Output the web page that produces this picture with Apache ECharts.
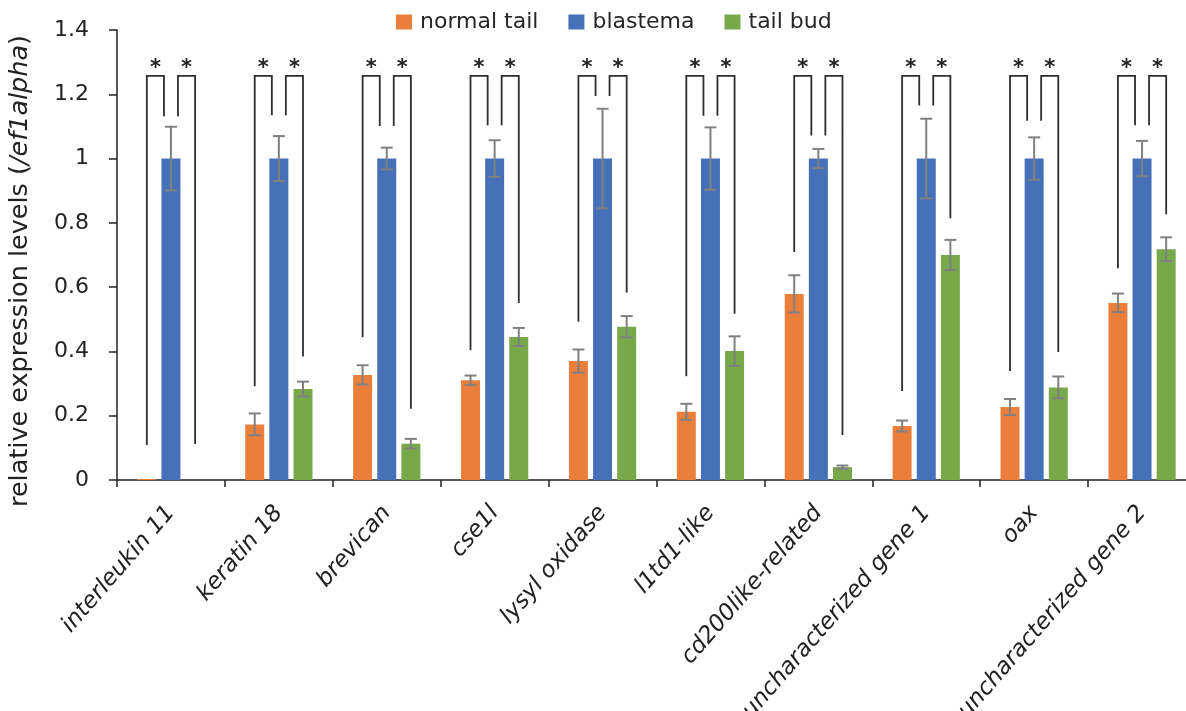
<!DOCTYPE html>
<html><head><meta charset="utf-8">
<script src="https://cdn.jsdelivr.net/npm/echarts@6/dist/echarts.min.js"></script>
<style>html,body{margin:0;padding:0;background:#fff}#c{width:1186px;height:711px}</style>
</head><body><div id="c"></div>
<script>
// ---- data ----
const categories = ['interleukin 11','keratin 18','brevican','cse1l','lysyl oxidase','l1td1-like','cd200like-related','uncharacterized gene 1','oax','uncharacterized gene 2'];
const seriesNames = ['normal tail','blastema','tail bud'];
const normalTail    = [0.003, 0.173, 0.327, 0.310, 0.370, 0.212, 0.579, 0.168, 0.227, 0.551];
const normalTailErr = [0,     0.034, 0.030, 0.015, 0.036, 0.025, 0.058, 0.017, 0.025, 0.029];
const blastema      = [1, 1, 1, 1, 1, 1, 1, 1, 1, 1];
const blastemaErr   = [0.099, 0.070, 0.034, 0.057, 0.155, 0.097, 0.030, 0.124, 0.066, 0.055];
const tailBud       = [0,     0.283, 0.113, 0.445, 0.477, 0.401, 0.040, 0.700, 0.288, 0.718];
const tailBudErr    = [0,     0.023, 0.015, 0.028, 0.033, 0.046, 0.005, 0.047, 0.034, 0.037];
// significance brackets (y values)
const bracketTop      = 1.257;
const bracketLeftLow  = [0.109, 0.292, 0.444, 0.404, 0.492, 0.323, 0.709, 0.277, 0.339, 0.659];
const bracketInnerLow = [1.132, 1.135, 1.101, 1.104, 1.195, 1.133, 1.072, 1.165, 1.118, 1.104];
const bracketRightLow = [0.112, 0.384, 0.222, 0.551, 0.583, 0.517, 0.140, 0.814, 0.398, 0.827];
const yMin = 0, yMax = 1.4, yInterval = 0.2;

// ---- style ----
const COLORS = ['#E97F3B', '#4671B8', '#77A94A'];
const FONT = 'DejaVu Sans';
const BAR_W = 19, BAR_GAP = 0.27, PITCH = BAR_W * (1 + BAR_GAP);
const CAP = 6, ERR_COLOR = '#808080', BR_COLOR = '#2e2e2e', INNER = 7;

const chart = echarts.init(document.getElementById('c'), null, {renderer: 'canvas'});

function errorSeries(si, vals, errs) {
  return {
    type: 'custom', z: 5, silent: true, clip: false,
    data: vals.map((v, i) => [i, v - errs[i], v + errs[i], errs[i]]),
    encode: {x: 0, y: [1, 2]},
    renderItem(params, api) {
      if (api.value(3) <= 0) return;
      const c = api.value(0);
      const x = api.coord([c, 0])[0] + (si - 1) * PITCH;
      const lo = api.coord([c, api.value(1)])[1];
      const hi = api.coord([c, api.value(2)])[1];
      const st = {stroke: ERR_COLOR, lineWidth: 2};
      return {type: 'group', children: [
        {type: 'line', shape: {x1: x, y1: lo, x2: x, y2: hi}, style: st},
        {type: 'line', shape: {x1: x - CAP, y1: lo, x2: x + CAP, y2: lo}, style: st},
        {type: 'line', shape: {x1: x - CAP, y1: hi, x2: x + CAP, y2: hi}, style: st}
      ]};
    }
  };
}

const bracketSeries = {
  type: 'custom', z: 6, silent: true, clip: false,
  data: categories.map((_, i) => [i, bracketLeftLow[i], bracketInnerLow[i], bracketRightLow[i], bracketTop]),
  encode: {x: 0, y: [1, 4]},
  renderItem(params, api) {
    const c = api.value(0);
    const xc = api.coord([c, 0])[0];
    const xL = xc - PITCH, xR = xc + PITCH, xi1 = xc - INNER, xi2 = xc + INNER;
    const yT = api.coord([c, api.value(4)])[1];
    const yL = api.coord([c, api.value(1)])[1];
    const yI = api.coord([c, api.value(2)])[1];
    const yR = api.coord([c, api.value(3)])[1];
    const st = {stroke: BR_COLOR, lineWidth: 1.8, fill: null};
    const ts = {text: '*', fontSize: 21, fontWeight: 'bold', fontFamily: FONT, fill: '#222', align: 'center', verticalAlign: 'middle'};
    return {type: 'group', children: [
      {type: 'polyline', shape: {points: [[xL, yL], [xL, yT], [xi1, yT], [xi1, yI]]}, style: st},
      {type: 'polyline', shape: {points: [[xi2, yI], [xi2, yT], [xR, yT], [xR, yR]]}, style: st},
      {type: 'text', x: (xL + xi1) / 2, y: yT - 7, style: ts},
      {type: 'text', x: (xi2 + xR) / 2, y: yT - 7, style: ts}
    ]};
  }
};

const barBase = {type: 'bar', barWidth: BAR_W, barGap: (BAR_GAP * 100) + '%'};

chart.setOption({
  animation: false,
  color: COLORS,
  textStyle: {fontFamily: FONT},
  legend: {
    data: seriesNames, left: 391, top: 6, icon: 'rect', itemWidth: 16, itemHeight: 15, itemGap: 30,
    textStyle: {fontSize: 22, fontFamily: FONT, color: '#262626', padding: [0, 0, 0, 3]}
  },
  grid: {left: 117, right: -10, top: 30, bottom: 231, containLabel: false, outerBoundsMode: 'none'},
  xAxis: {
    type: 'category', data: categories,
    axisLine: {lineStyle: {color: '#222', width: 1.5}},
    axisTick: {show: true, length: 7, lineStyle: {color: '#222', width: 1.5}},
    axisLabel: {rotate: 49, margin: 29, fontSize: 23, fontStyle: 'italic', fontFamily: FONT, color: '#222', interval: 0}
  },
  yAxis: {
    type: 'value', min: yMin, max: yMax, interval: yInterval,
    splitLine: {show: false},
    axisLine: {show: true, lineStyle: {color: '#222', width: 1.5}},
    axisTick: {show: true, length: 8, lineStyle: {color: '#222', width: 1.5}},
    axisLabel: {margin: 28, fontSize: 22, fontFamily: FONT, color: '#222'},
    name: '{n|relative expression levels (}{i|/ef1alpha}{n|)}',
    nameLocation: 'middle', nameRotate: 90, nameGap: 84,
    nameTextStyle: {
      padding: [0, 32, 0, 0],
      rich: {
        n: {fontSize: 25.5, fontFamily: FONT, color: '#222'},
        i: {fontSize: 25.5, fontFamily: FONT, color: '#222', fontStyle: 'italic'}
      }
    }
  },
  series: [
    Object.assign({name: seriesNames[0], data: normalTail}, barBase),
    Object.assign({name: seriesNames[1], data: blastema}, barBase),
    Object.assign({name: seriesNames[2], data: tailBud}, barBase),
    errorSeries(0, normalTail, normalTailErr),
    errorSeries(1, blastema, blastemaErr),
    errorSeries(2, tailBud, tailBudErr),
    bracketSeries
  ]
});
</script></body></html>
